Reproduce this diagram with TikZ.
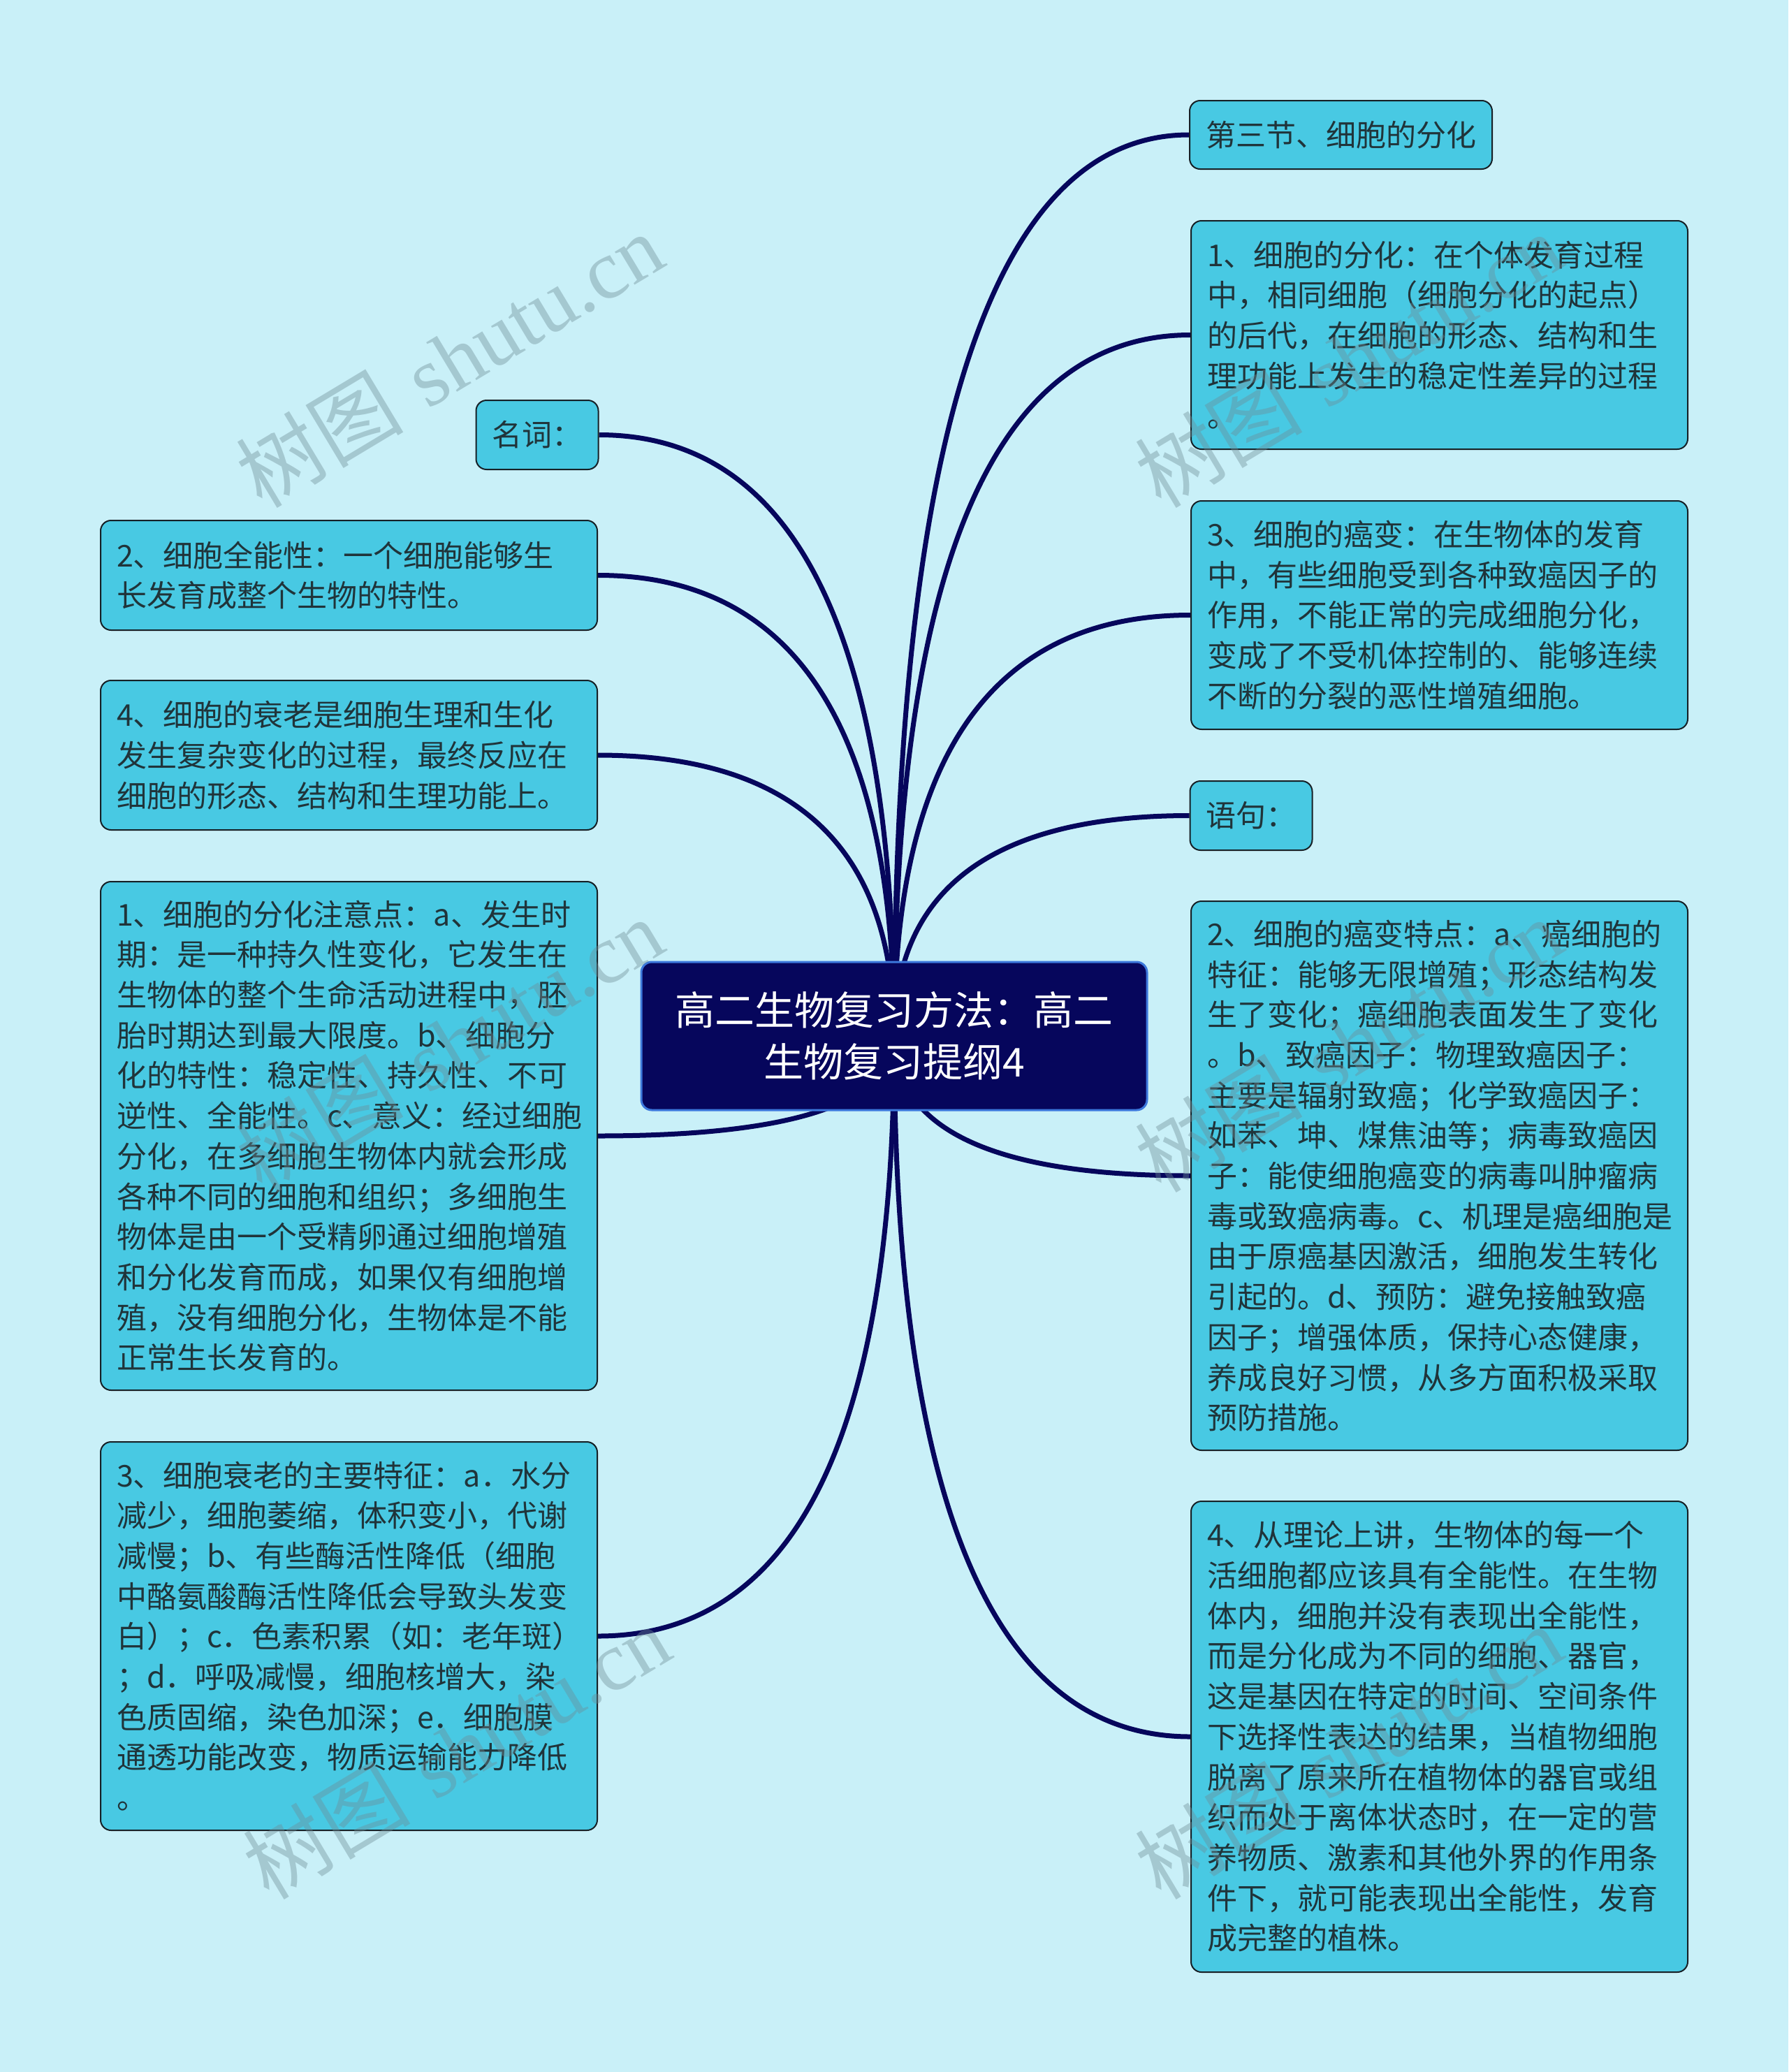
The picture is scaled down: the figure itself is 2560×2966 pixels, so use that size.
\documentclass[tikz,border=0pt]{standalone}
\usepackage{fontspec}
\usepackage{tikz}
\usetikzlibrary{calc,positioning}
\newfontfamily\cjkfont{Noto Sans CJK SC}
\newfontfamily\wmserif{Liberation Serif}
\definecolor{pagebg}{RGB}{201,240,248}
\definecolor{leaffill}{RGB}{72,201,227}
\definecolor{leafline}{RGB}{22,32,38}
\definecolor{leaftext}{RGB}{32,52,58}
\definecolor{navy}{RGB}{6,6,92}
\definecolor{rootline}{RGB}{60,120,220}
\definecolor{wmcolor}{RGB}{110,140,150}
\pgfdeclarelayer{background}
\pgfsetlayers{background,main}

\begin{document}
\begin{tikzpicture}[
            x=0.5pt, y=-0.5pt,
            leaf/.style={draw=leafline, line width=1pt, fill=leaffill, rounded corners=7.5pt, text=leaftext, font=\cjkfont\fontsize{21.5pt}{28.85pt}\selectfont, inner xsep=11.5pt, inner ysep=0pt, align=left},
            note/.style={leaf, text width=332.5pt},
            root/.style={draw=rootline, line width=1.5pt, fill=navy, rounded corners=7.5pt, text=white, font=\cjkfont\fontsize{28.5pt}{37pt}\selectfont, align=center, minimum width=362pt, minimum height=106pt},
            link/.style={draw=navy, line width=3.5pt},
            wm/.style={text=wmcolor, text opacity=0.4, rotate=31, font=\fontsize{60pt}{60pt}\selectfont}
        ]
            \useasboundingbox (0,0) rectangle (2560,2966);
            \node[root] (root) at (1280,1483) {高二生物复习方法：高二\\生物复习提纲4};

            \node[leaf, minimum width=214.5pt, minimum height=49pt] (r1) at (1919.5,193) {第三节、细胞的分化};
            \node[note, minimum height=163.5pt] (r2) at (2060.5,479.5) {1、细胞的分化：在个体发育过程\\中，相同细胞（细胞分化的起点）\\的后代，在细胞的形态、结构和生\\理功能上发生的稳定性差异的过程\\。};
            \node[note, minimum height=163.5pt] (r3) at (2060.5,880.5) {3、细胞的癌变：在生物体的发育\\中，有些细胞受到各种致癌因子的\\作用，不能正常的完成细胞分化，\\变成了不受机体控制的、能够连续\\不断的分裂的恶性增殖细胞。};
            \node[leaf, minimum width=86pt, minimum height=49.5pt] (r4) at (1791,1167.5) {语句：};
            \node[note, minimum height=393pt] (r5) at (2060.5,1683) {2、细胞的癌变特点：a、癌细胞的\\特征：能够无限增殖；形态结构发\\生了变化；癌细胞表面发生了变化\\。b、致癌因子：物理致癌因子：\\主要是辐射致癌；化学致癌因子：\\如苯、坤、煤焦油等；病毒致癌因\\子：能使细胞癌变的病毒叫肿瘤病\\毒或致癌病毒。c、机理是癌细胞是\\由于原癌基因激活，细胞发生转化\\引起的。d、预防：避免接触致癌\\因子；增强体质，保持心态健康，\\养成良好习惯，从多方面积极采取\\预防措施。};
            \node[note, minimum height=337pt] (r6) at (2060.5,2486) {4、从理论上讲，生物体的每一个\\活细胞都应该具有全能性。在生物\\体内，细胞并没有表现出全能性，\\而是分化成为不同的细胞、器官，\\这是基因在特定的时间、空间条件\\下选择性表达的结果，当植物细胞\\脱离了原来所在植物体的器官或组\\织而处于离体状态时，在一定的营\\养物质、激素和其他外界的作用条\\件下，就可能表现出全能性，发育\\成完整的植株。};

            \node[leaf, minimum width=86pt, minimum height=49.5pt] (l1) at (769,622.5) {名词：};
            \node[note, minimum height=78.5pt] (l2) at (499.5,823.5) {2、细胞全能性：一个细胞能够生\\长发育成整个生物的特性。};
            \node[note, minimum height=107pt] (l3) at (499.5,1081) {4、细胞的衰老是细胞生理和生化\\发生复杂变化的过程，最终反应在\\细胞的形态、结构和生理功能上。};
            \node[note, minimum height=364pt] (l4) at (499.5,1626) {1、细胞的分化注意点：a、发生时\\期：是一种持久性变化，它发生在\\生物体的整个生命活动进程中，胚\\胎时期达到最大限度。b、细胞分\\化的特性：稳定性、持久性、不可\\逆性、全能性。c、意义：经过细胞\\分化，在多细胞生物体内就会形成\\各种不同的细胞和组织；多细胞生\\物体是由一个受精卵通过细胞增殖\\和分化发育而成，如果仅有细胞增\\殖，没有细胞分化，生物体是不能\\正常生长发育的。};
            \node[note, minimum height=278pt] (l5) at (499.5,2342) {3、细胞衰老的主要特征：a．水分\\减少，细胞萎缩，体积变小，代谢\\减慢；b、有些酶活性降低（细胞\\中酪氨酸酶活性降低会导致头发变\\白）；c．色素积累（如：老年斑）\\；d．呼吸减慢，细胞核增大，染\\色质固缩，染色加深；e．细胞膜\\通透功能改变，物质运输能力降低\\。};

            \begin{pgfonlayer}{background}
                \fill[pagebg] (0,0) rectangle (2560,2966);
                \foreach \n in {r1,r2,r3,r4,r5,r6}
                    \draw[link] (root.center) .. controls ($(root.center)!2/3!(root.center |- \n.west)$) and ($(\n.west)!2/3!(root.center |- \n.west)$) .. (\n.west);
                \foreach \n in {l1,l2,l3,l4,l5}
                    \draw[link] (root.center) .. controls ($(root.center)!2/3!(root.center |- \n.east)$) and ($(\n.east)!2/3!(root.center |- \n.east)$) .. (\n.east);
            \end{pgfonlayer}

            \foreach \wx/\wy [count=\i] in {643/515, 1930/515, 643/1495, 1930/1495, 653/2507, 1930/2507}
                \node[wm] (mark\i) at (\wx,\wy) {{\cjkfont 树图} {\wmserif shutu.cn}};
        \end{tikzpicture}
\end{document}
